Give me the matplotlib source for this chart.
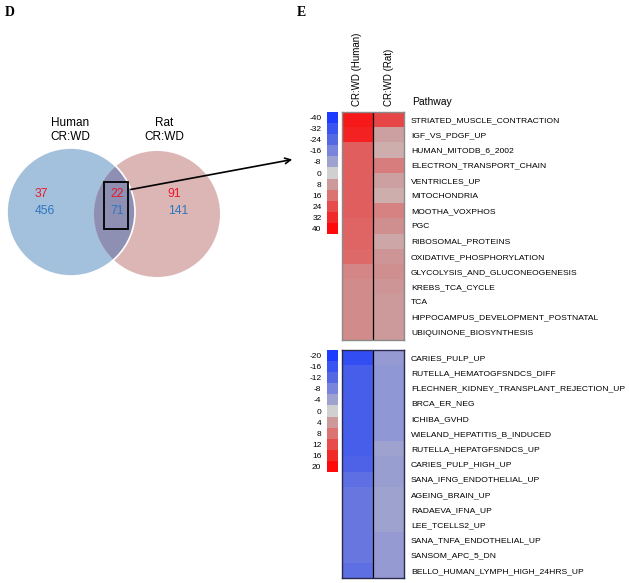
"""
Venn of CR:WD pathways (human vs rat) + heatmaps of shared pathways.
"""

import matplotlib
matplotlib.use("Agg")
import matplotlib.pyplot as plt
import numpy as np
from matplotlib.colors import LinearSegmentedColormap
from matplotlib.patches import Circle, Rectangle

plt.rcParams["font.family"] = ["Liberation Sans", "DejaVu Sans"]

# Venn counts (red = up, blue = down)
venn_up = [37, 22, 91]
venn_down = [456, 71, 141]
venn_names = ["Human\nCR:WD", "Rat\nCR:WD"]

col_labels = ["CR:WD (Human)", "CR:WD (Rat)"]

up_pathways = ["STRIATED_MUSCLE_CONTRACTION", "IGF_VS_PDGF_UP", "HUMAN_MITODB_6_2002",
               "ELECTRON_TRANSPORT_CHAIN", "VENTRICLES_UP", "MITOCHONDRIA",
               "MOOTHA_VOXPHOS", "PGC", "RIBOSOMAL_PROTEINS", "OXIDATIVE_PHOSPHORYLATION",
               "GLYCOLYSIS_AND_GLUCONEOGENESIS", "KREBS_TCA_CYCLE", "TCA",
               "HIPPOCAMPUS_DEVELOPMENT_POSTNATAL", "UBIQUINONE_BIOSYNTHESIS"]
up_human = [36, 34, 20, 20, 20, 20, 20, 19, 19, 18, 12, 11, 11, 11, 11]
up_rat = [25, 7, 5, 14, 7, 5, 13, 10, 6, 9, 10, 9, 8, 8, 8]
up_ticks = [-40, -32, -24, -16, -8, 0, 8, 16, 24, 32, 40]

down_pathways = ["CARIES_PULP_UP", "RUTELLA_HEMATOGFSNDCS_DIFF",
                 "FLECHNER_KIDNEY_TRANSPLANT_REJECTION_UP", "BRCA_ER_NEG", "ICHIBA_GVHD",
                 "WIELAND_HEPATITIS_B_INDUCED", "RUTELLA_HEPATGFSNDCS_UP",
                 "CARIES_PULP_HIGH_UP", "SANA_IFNG_ENDOTHELIAL_UP", "AGEING_BRAIN_UP",
                 "RADAEVA_IFNA_UP", "LEE_TCELLS2_UP", "SANA_TNFA_ENDOTHELIAL_UP",
                 "SANSOM_APC_5_DN", "BELLO_HUMAN_LYMPH_HIGH_24HRS_UP"]
down_human = [-17, -14, -14, -14, -14, -14, -14, -13, -11, -10, -10, -10, -10, -10, -11]
down_rat = [-5, -5.5, -5.5, -5.5, -5.5, -5.5, -4, -4.5, -4.5, -4, -4, -4, -5, -5, -5]
down_ticks = [-20, -16, -12, -8, -4, 0, 4, 8, 12, 16, 20]

cmap = LinearSegmentedColormap.from_list("bgr", [
    (0.0, "#1e3cff"), (0.1, "#3a55f0"), (0.2, "#5568e4"), (0.3, "#7a86dc"),
    (0.4, "#9ea2cf"), (0.5, "#d2d2d2"), (0.6, "#cc9a9a"), (0.7, "#dc7474"),
    (0.8, "#e64c4c"), (0.9, "#f02a2a"), (1.0, "#ff0a0a")])

W, H = 629, 583
fig = plt.figure(figsize=(W / 100, H / 100), dpi=100)

# background axes in pixel coords
bg = fig.add_axes([0, 0, 1, 1])
bg.set_xlim(0, W)
bg.set_ylim(H, 0)
bg.axis("off")

# ---- Venn ----
left = Circle((71, 212), 64, facecolor="#a3c1dc", edgecolor="none")
right = Circle((157, 214), 63, facecolor="#dcb5b5", edgecolor="none")
bg.add_patch(left)
bg.add_patch(right)
overlap = Circle((157, 214), 63, facecolor="#8d8fb3", edgecolor="none")
bg.add_patch(overlap)
overlap.set_clip_path(left)
bg.add_patch(Circle((71, 212), 64, facecolor="none", edgecolor="white", lw=1.2))

bg.text(70, 130, venn_names[0], ha="center", va="center", fontsize=8.5, linespacing=1.2)
bg.text(164, 130, venn_names[1], ha="center", va="center", fontsize=8.5, linespacing=1.2)
for x, u, d in zip([41, 117, 174], venn_up, venn_down):
    bg.text(x, 194, str(u), ha="center", va="center", fontsize=8.8, color="#e8192c")
    bg.text(x + (4 if d > 99 else 0), 211, str(d), ha="center", va="center",
            fontsize=8.8, color="#2e75c0")
bg.add_patch(Rectangle((104, 182), 24, 47, facecolor="none", edgecolor="black", lw=1.3))
bg.annotate("", xy=(295, 159), xytext=(128, 190),
            arrowprops=dict(arrowstyle="->", color="black", lw=1.2))

bg.text(5, 12, "D", fontsize=10, fontweight="bold", family="Liberation Serif", va="center")
bg.text(297, 12, "E", fontsize=10, fontweight="bold", family="Liberation Serif", va="center")


def heat_panel(top, human, rat, names, ticks, edge):
    y1 = top + 228
    ax = fig.add_axes([342 / W, 1 - y1 / H, 62 / W, 228 / H])
    vmax = ticks[-1]
    data = np.column_stack([human, rat])
    ax.imshow(data, cmap=cmap, vmin=-vmax, vmax=vmax, aspect="auto",
              interpolation="nearest")
    ax.axvline(0.5, color="black", lw=0.9)
    ax.set_xticks([])
    ax.yaxis.tick_right()
    ax.set_yticks(range(len(names)))
    ax.set_yticklabels(names, fontsize=6.1)
    ax.tick_params(axis="y", length=0, pad=5)
    for s in ax.spines.values():
        s.set_color(edge)
        s.set_linewidth(1.0)

    cax = fig.add_axes([327 / W, 1 - (top + 122) / H, 11 / W, 122 / H])
    cax.imshow(np.array(ticks).reshape(-1, 1), cmap=cmap, vmin=-vmax, vmax=vmax,
               aspect="auto", interpolation="nearest")
    cax.set_xticks([])
    cax.set_yticks(range(len(ticks)))
    cax.set_yticklabels([str(t) for t in ticks], fontsize=6)
    cax.tick_params(axis="y", length=0, pad=4)
    for s in cax.spines.values():
        s.set_visible(False)
    return ax


ax_up = heat_panel(112, up_human, up_rat, up_pathways, up_ticks, "#8a8a8a")
heat_panel(350, down_human, down_rat, down_pathways, down_ticks, "#2a2a50")

for i, lab in enumerate(col_labels):
    ax_up.text(i, -0.5 - 0.4, lab, rotation=90, ha="center", va="bottom", fontsize=7)
bg.text(412, 102, "Pathway", fontsize=7.5, va="center")

plt.savefig("out.png", dpi=100)
